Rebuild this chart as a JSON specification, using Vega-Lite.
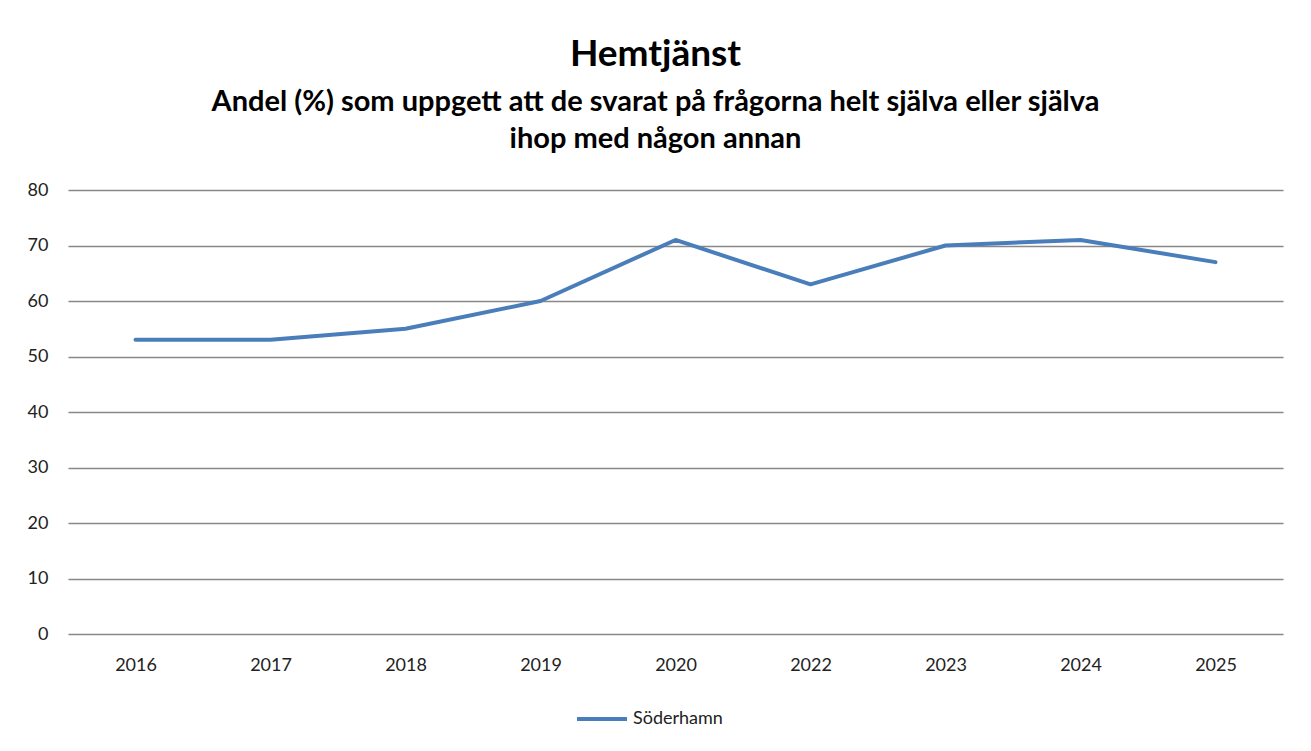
{
  "$schema": "https://vega.github.io/schema/vega-lite/v6.json",
  "width": 1215,
  "height": 444,
  "autosize": "none",
  "padding": {"left": 68, "top": 190, "right": 28, "bottom": 117},
  "background": "white",
  "title": {
    "text": "Hemtjänst",
    "subtitle": ["Andel (%) som uppgett att de svarat på frågorna helt själva eller själva", "ihop med någon annan"],
    "font": "Lato",
    "fontSize": 37,
    "fontWeight": "bold",
    "color": "black",
    "subtitleFont": "Lato",
    "subtitleFontSize": 29,
    "subtitleFontWeight": "bold",
    "subtitleColor": "black",
    "subtitleLineHeight": 37,
    "subtitlePadding": 14,
    "anchor": "middle",
    "dx": -20,
    "offset": 26
  },
  "data": {
    "values": [
      {"year": "2016", "value": 53, "series": "Söderhamn"},
      {"year": "2017", "value": 53, "series": "Söderhamn"},
      {"year": "2018", "value": 55, "series": "Söderhamn"},
      {"year": "2019", "value": 60, "series": "Söderhamn"},
      {"year": "2020", "value": 71, "series": "Söderhamn"},
      {"year": "2022", "value": 63, "series": "Söderhamn"},
      {"year": "2023", "value": 70, "series": "Söderhamn"},
      {"year": "2024", "value": 71, "series": "Söderhamn"},
      {"year": "2025", "value": 67, "series": "Söderhamn"}
    ]
  },
  "mark": {"type": "line", "strokeWidth": 4, "strokeCap": "round", "strokeJoin": "round"},
  "encoding": {
    "x": {
      "field": "year",
      "type": "ordinal",
      "sort": null,
      "scale": {"paddingInner": 0, "paddingOuter": 0.5},
      "axis": {"title": null, "labelAngle": 0, "domain": false, "ticks": false, "labelPadding": 22, "labelFont": "Lato", "labelFontSize": 18, "labelColor": "#222"}
    },
    "y": {
      "field": "value",
      "type": "quantitative",
      "scale": {"domain": [0, 80], "nice": false},
      "axis": {"title": null, "values": [0, 10, 20, 30, 40, 50, 60, 70, 80], "domain": false, "ticks": false, "labelPadding": 20, "labelFont": "Lato", "labelFontSize": 18, "labelColor": "#222", "grid": true, "gridColor": "#888888", "gridWidth": 1.5}
    },
    "color": {
      "field": "series",
      "type": "nominal",
      "scale": {"range": ["#4a7ebb"]},
      "legend": {"title": null, "orient": "none", "legendX": 507, "legendY": 502, "symbolType": "stroke", "symbolStrokeWidth": 4, "symbolSize": 2500, "labelFont": "Lato", "labelFontSize": 18, "labelColor": "#222", "labelOffset": 4}
    }
  },
  "config": {"view": {"stroke": null}}
}
